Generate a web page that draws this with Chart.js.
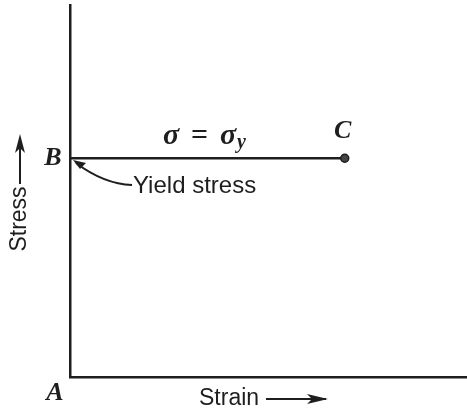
<!DOCTYPE html>
<html>
<head>
<meta charset="utf-8">
<script src="https://cdn.jsdelivr.net/npm/chart.js@4.4.0/dist/chart.umd.min.js"></script>
<style>
html,body{margin:0;padding:0;background:#fff;}
#wrap{width:467px;height:417px;}
</style>
</head>
<body>
<div id="wrap"><canvas id="c" width="467" height="417"></canvas></div>
<script>
// Data
const strain = [0, 6.92];
const stress = [5.88, 5.88];
const pointLabels = ['B', 'C'];
const xAxisTitle = 'Strain';
const yAxisTitle = 'Stress';
const originLabel = 'A';
const yieldNote = 'Yield stress';

const points = strain.map((x, i) => ({x: x, y: stress[i]}));

const ink = '#1e1e1e';

const labelPlugin = {
  id: 'labels',
  afterDraw(chart) {
    const ctx = chart.ctx;
    const xs = chart.scales.x, ys = chart.scales.y;
    const bx = xs.getPixelForValue(strain[0]), by = ys.getPixelForValue(stress[0]);
    const cx = xs.getPixelForValue(strain[1]), cy = ys.getPixelForValue(stress[1]);
    const ax = xs.getPixelForValue(0), ay = ys.getPixelForValue(0);
    ctx.save();
    ctx.fillStyle = ink;
    ctx.strokeStyle = ink;
    // Point letters
    ctx.font = 'italic bold 26px "Liberation Serif", serif';
    ctx.textBaseline = 'middle';
    ctx.textAlign = 'center';
    ctx.fillText(pointLabels[0], bx - 17, by);
    ctx.fillText(pointLabels[1], cx - 2, cy - 27);
    ctx.fillText(originLabel, ax - 15, ay + 16);
    // sigma = sigma_y
    ctx.textAlign = 'left';
    ctx.font = 'italic bold 30px "Liberation Serif", serif';
    const sy = cy - 22;
    ctx.fillText('\u03C3', 163, sy);
    ctx.font = 'bold 30px "Liberation Serif", serif';
    ctx.fillText('=', 191, sy);
    ctx.font = 'italic bold 30px "Liberation Serif", serif';
    ctx.fillText('\u03C3', 220, sy);
    ctx.font = 'italic bold 20px "Liberation Serif", serif';
    ctx.fillText('y', 237, sy + 7);
    // Yield stress
    ctx.font = '24px "Liberation Sans", sans-serif';
    ctx.textAlign = 'left';
    ctx.fillText(yieldNote, 133, 186);
    // curved arrow
    ctx.lineWidth = 2;
    ctx.beginPath();
    ctx.moveTo(132, 185);
    ctx.quadraticCurveTo(104, 184, 76, 163);
    ctx.stroke();
    ctx.beginPath();
    ctx.moveTo(73, 160);
    ctx.lineTo(86, 163);
    ctx.lineTo(80, 169);
    ctx.closePath();
    ctx.fill();
    // Strain title
    ctx.font = '23px "Liberation Sans", sans-serif';
    ctx.textAlign = 'left';
    ctx.fillText(xAxisTitle, 199, 399);
    ctx.lineWidth = 1.8;
    ctx.beginPath();
    ctx.moveTo(266, 399);
    ctx.lineTo(326, 399);
    ctx.stroke();
    ctx.beginPath();
    ctx.moveTo(328, 399);
    ctx.lineTo(307, 394);
    ctx.lineTo(312, 399);
    ctx.lineTo(307, 404);
    ctx.closePath();
    ctx.fill();
    // Stress title (rotated)
    ctx.save();
    ctx.translate(20, 219);
    ctx.rotate(-Math.PI / 2);
    ctx.textAlign = 'center';
    ctx.font = '23px "Liberation Sans", sans-serif';
    ctx.fillText(yAxisTitle, 0, 0);
    ctx.restore();
    ctx.lineWidth = 2;
    ctx.beginPath();
    ctx.moveTo(20, 184);
    ctx.lineTo(20, 140);
    ctx.stroke();
    ctx.beginPath();
    ctx.moveTo(20, 134);
    ctx.lineTo(15, 153);
    ctx.lineTo(20, 148);
    ctx.lineTo(25, 153);
    ctx.closePath();
    ctx.fill();
    ctx.restore();
  }
};

new Chart(document.getElementById('c'), {
  type: 'scatter',
  data: {
    datasets: [{
      data: points,
      showLine: true,
      borderColor: ink,
      borderWidth: 2.5,
      backgroundColor: ink,
      pointRadius: [0, 4],
      pointHoverRadius: [0, 4],
      pointBackgroundColor: '#444',
      pointBorderColor: ink,
      pointBorderWidth: 1.5,
      clip: false
    }]
  },
  options: {
    responsive: false,
    animation: false,
    events: [],
    layout: {autoPadding: false, padding: {left: 70, top: 5, right: 0, bottom: 40}},
    plugins: {legend: {display: false}, tooltip: {enabled: false}},
    scales: {
      x: {
        type: 'linear', min: 0, max: 10,
        grid: {display: false},
        border: {display: true, color: ink, width: 2.5},
        ticks: {display: false},
        afterFit(s) { s.height = 0; }
      },
      y: {
        type: 'linear', min: 0, max: 10,
        grid: {display: false},
        border: {display: true, color: ink, width: 2.5},
        ticks: {display: false},
        afterFit(s) { s.width = 0; }
      }
    }
  },
  plugins: [labelPlugin]
});
</script>
</body>
</html>
